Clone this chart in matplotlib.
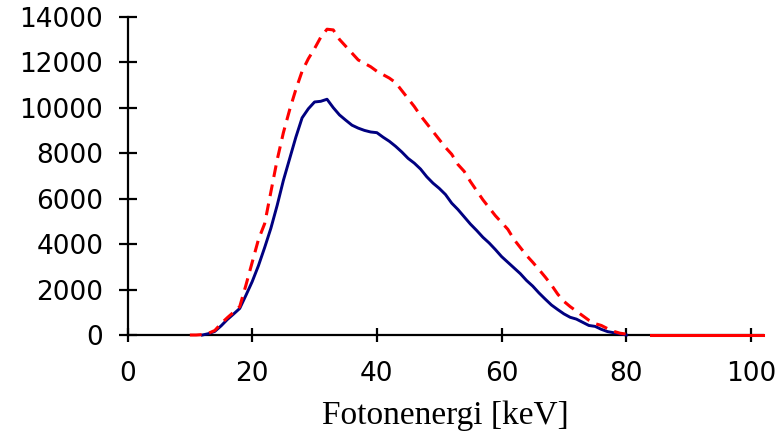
import matplotlib
matplotlib.use("Agg")
import matplotlib.pyplot as plt
import numpy as np

plt.rcParams['lines.scale_dashes'] = False

# solid blue spectrum (keV, counts)
blue_x = np.arange(12, 81)
blue_y = [0, 60, 160, 400, 680, 920, 1170, 1750, 2350, 3050,
          3850, 4700, 5700, 6800, 7750, 8700, 9550, 9950, 10250, 10280,
          10370, 10000, 9680, 9450, 9230, 9100, 9000, 8930, 8900, 8700,
          8520, 8300, 8050, 7770, 7560, 7300, 6960, 6680, 6450, 6180,
          5800, 5520, 5200, 4880, 4600, 4300, 4050, 3760, 3450, 3200,
          2950, 2700, 2400, 2150, 1850, 1580, 1320, 1120, 930, 780,
          700, 560, 420, 380, 250, 150, 100, 50, 0]

# dashed red spectrum
red_x = np.arange(10, 103)
red_y = [0, 0, 20, 80, 200, 500, 760, 1000, 1250, 2200,
         3200, 4200, 4900, 6300, 7700, 8900, 9900, 10800, 11600, 12150,
         12600, 13100, 13450, 13420, 13000, 12700, 12400, 12100, 11950, 11800,
         11600, 11450, 11300, 11100, 10750, 10400, 10050, 9650, 9300, 8950,
         8600, 8250, 7950, 7500, 7200, 6750, 6350, 5950, 5600, 5250,
         4950, 4650, 4200, 3850, 3500, 3200, 2880, 2550, 2200, 1800,
         1480, 1250, 1050, 850, 650, 500, 420, 280, 160, 80,
         40, 0, 0, 0, 0, 0, 0, 0, 0, 0,
         0, 0, 0, 0, 0, 0, 0, 0, 0, 0,
         0, 0, 0]

red_x = np.array(red_x)
red_y = np.array(red_y)

fig = plt.figure(figsize=(7.79, 4.32), dpi=100)
ax = fig.add_axes([0.1637, 0.2245, 0.8163, 0.7368])

ax.plot(blue_x, blue_y, color="#000080", lw=2.1, zorder=3, clip_on=False)

# red: dashed over the spectrum, the flat zero tail looks solid in the original
main = red_x <= 81
tail = red_x >= 84
ax.plot(red_x[main], red_y[main], color="#ff0000", lw=2.2,
        dashes=(8.5, 5.5), zorder=4, clip_on=False)
ax.plot(red_x[tail], red_y[tail], color="#ff0000", lw=2.2, zorder=4, clip_on=False)

ax.set_xlim(0, 102)
ax.set_ylim(0, 14000)
ax.set_xticks(np.arange(0, 101, 20))
ax.set_yticks(np.arange(0, 14001, 2000))

for s in ["top", "right"]:
    ax.spines[s].set_visible(False)
for s in ["left", "bottom"]:
    ax.spines[s].set_linewidth(1.6)
ax.tick_params(axis="y", direction="inout", length=13, width=1.6, labelsize=19, pad=11)
ax.tick_params(axis="x", direction="inout", length=9.5, width=1.6, labelsize=19, pad=14)

ax.set_xlabel("Fotonenergi [keV]", family="Liberation Serif", fontsize=24, labelpad=10)

fig.savefig("out.png", dpi=100)
